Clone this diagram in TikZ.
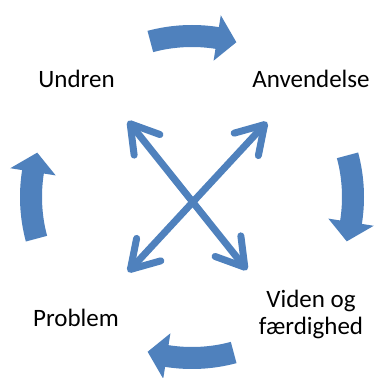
\documentclass[tikz,border=0pt]{standalone}
\usepackage{fontspec}
\setmainfont{Carlito}
\usetikzlibrary{arrows.meta}
\definecolor{cycleblue}{RGB}{79,129,189}

% one bent block arrow of the cycle, drawn round the origin
\newcommand{\bendarrowpath}{%
  (105:172) arc[start angle=105, end angle=81, radius=172]
  -- (81:184) -- (74:161) -- (81:138) -- (81:150)
  arc[start angle=81, end angle=105, radius=150] -- cycle}

\begin{document}
\begin{tikzpicture}[x=1pt, y=1pt,
    lbl/.style={font=\fontsize{25}{27}\selectfont, align=center, inner sep=0pt},
    cyclearrow/.style={fill=cycleblue},
    link/.style={draw=cycleblue, line width=7pt,
                 >={Straight Barb[length=27pt, width=33pt, round]}, <->},
  ]
  \useasboundingbox (0,0) rectangle (374,378);
  \coordinate (c) at (192,181);

  % Labels
  \node[lbl, anchor=base] (undren) at (76.5,290) {Undren};
  \node[lbl, anchor=base] (anvend) at (311,290) {Anvendelse};
  \node[lbl, anchor=base] (viden) at (311,43) {Viden og\\færdighed};
  \node[lbl, anchor=base] (problem) at (76,52) {Problem};

  % Cycle arrows
  \fill[cyclearrow, shift={(c)}] \bendarrowpath;
  \fill[cyclearrow, shift={(c)}, rotate=-90] \bendarrowpath;
  \fill[cyclearrow, shift={(c)}, rotate=-180] \bendarrowpath;
  \fill[cyclearrow, shift={(c)}, rotate=-270] \bendarrowpath;

  % Cross in the middle
  \coordinate (tl) at (128,257);
  \coordinate (br) at (247,108);
  \coordinate (tr) at (267,256);
  \coordinate (bl) at (128,106);
  \draw[link] (tl) -- (br);
  \draw[link] (tr) -- (bl);
\end{tikzpicture}
\end{document}
